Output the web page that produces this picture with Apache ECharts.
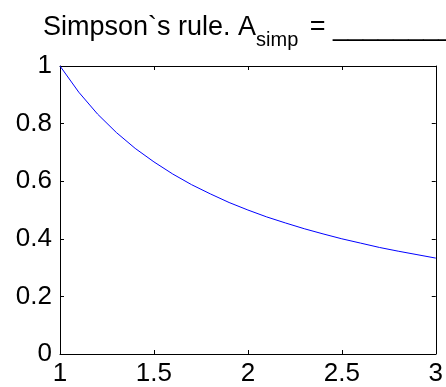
<!DOCTYPE html>
<html>
<head>
<meta charset="utf-8">
<script src="https://cdn.jsdelivr.net/npm/echarts@6/dist/echarts.min.js"></script>
<style>
  html, body { margin: 0; padding: 0; background: #fff; }
  #chart { width: 446px; height: 387px; }
</style>
</head>
<body>
<div id="chart"></div>
<script>
// sample points
const xValues = [1.0, 1.1, 1.2, 1.3, 1.4, 1.5, 1.6, 1.7, 1.8, 1.9, 2.0,
                 2.1, 2.2, 2.3, 2.4, 2.5, 2.6, 2.7, 2.8, 2.9, 3.0];
const yValues = [1.0, 0.909, 0.833, 0.769, 0.714, 0.667, 0.625, 0.588, 0.556, 0.526, 0.5,
                 0.476, 0.455, 0.435, 0.417, 0.4, 0.385, 0.370, 0.357, 0.345, 0.333];
const xTicks = [1, 1.5, 2, 2.5, 3];
const yTicks = [0, 0.2, 0.4, 0.6, 0.8, 1];

const font = "'Liberation Sans', Arial, sans-serif";
const chart = echarts.init(document.getElementById("chart"));

const boxAxis = (extra) => Object.assign({
  type: "value",
  axisLine: { show: true, onZero: false, lineStyle: { color: "#000", width: 1 } },
  axisTick: { show: true, inside: true, length: 4, lineStyle: { color: "#000" } },
  splitLine: { show: false },
}, extra);

const tok = (extra) => Object.assign({
  fontFamily: font, fontSize: 27, fontWeight: "normal", color: "#000",
  verticalAlign: "top", lineHeight: 32,
}, extra);

chart.setOption({
  animation: false,
  backgroundColor: "#fff",
  title: {
    text: "{a|Simpson`s rule. A}{s|simp}{a| = ________}",
    left: 43,
    top: 14,
    padding: 0,
    textStyle: {
      fontWeight: "normal",
      rich: {
        a: tok(),
        s: tok({ fontSize: 20, padding: [16, 4, 0, 0] }),
      },
    },
  },
  grid: { left: 60, right: 10, top: 66, bottom: 32 },
  xAxis: [
    boxAxis({
      min: xTicks[0], max: xTicks[xTicks.length - 1], interval: 0.5,
      position: "bottom",
      axisLabel: { color: "#000", fontFamily: font, fontSize: 26, margin: 7 },
    }),
    boxAxis({
      min: xTicks[0], max: xTicks[xTicks.length - 1], interval: 0.5,
      position: "top",
      axisLabel: { show: false },
    }),
  ],
  yAxis: [
    boxAxis({
      min: yTicks[0], max: yTicks[yTicks.length - 1], interval: 0.2,
      position: "left",
      axisLabel: { color: "#000", fontFamily: font, fontSize: 26, margin: 8 },
    }),
    boxAxis({
      min: yTicks[0], max: yTicks[yTicks.length - 1], interval: 0.2,
      position: "right",
      axisLabel: { show: false },
    }),
  ],
  series: [
    {
      type: "line",
      data: xValues.map((x, i) => [x, yValues[i]]),
      showSymbol: false,
      lineStyle: { color: "#0000ff", width: 1 },
      xAxisIndex: 0,
      yAxisIndex: 0,
    },
  ],
});
</script>
</body>
</html>
